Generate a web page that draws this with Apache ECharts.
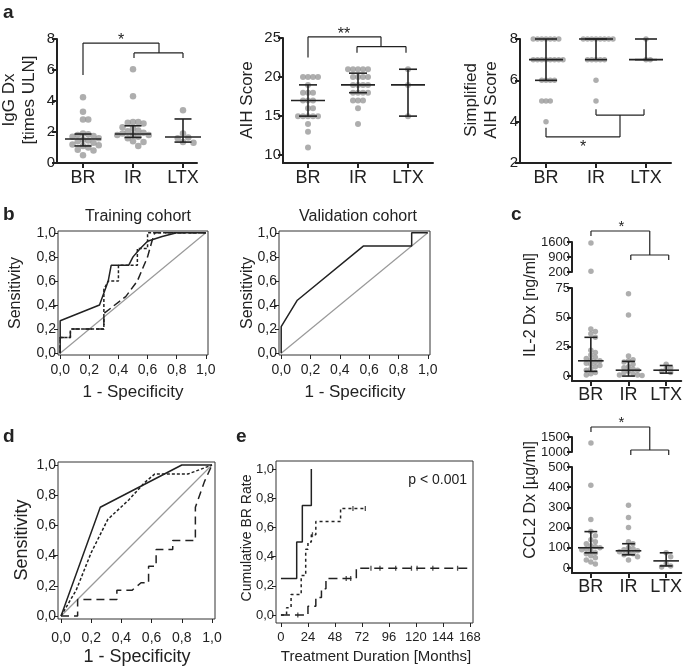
<!DOCTYPE html>
<html><head><meta charset="utf-8">
<script src="https://cdn.jsdelivr.net/npm/echarts@6/dist/echarts.min.js"></script>
<style>html,body{margin:0;padding:0;background:#fff}#c{width:685px;height:667px}</style>
</head><body><div id="c"></div>
<script>
// ---------------- DATA ----------------
const groups = ['BR', 'IR', 'LTX'];

// a: IgG Dx [times ULN]
const iggBR = [4.25,3.3,2.8,2.8,1.9,1.85,1.8,1.75,1.7,1.6,1.5,1.45,1.4,1.3,1.2,1.15,1.1,1.0,0.85,0.8,0.5];
const iggIR = [6.05,4.3,2.65,2.65,2.6,2.55,2.3,2.25,2.1,2.05,1.95,1.9,1.85,1.8,1.8,1.7,1.6,1.4,1.35,1.1];
const iggLTX = [3.4,1.9,1.65,1.6,1.35,1.3];
const iggMed = [1.55,1.87,1.68];
const iggQ1 = [1.1,1.65,1.35];
const iggQ3 = [1.87,2.4,2.84];
const iggTicks = [0,2,4,6,8];

// a: AIH Score
const aihBR = [20,20,20,20,19,18,18,18,17,17,17,16,16,15,15,15,15,15,14,13,11];
const aihIR = [21,21,21,21,21,20,20,20,20,19,19,19,19,18,18,18,18,17,17,17,16,14];
const aihLTX = [21,19,15];
const aihMed = [17,19,19];
const aihQ1 = [15,18,15];
const aihQ3 = [19,20.5,21];
const aihTicks = [10,15,20,25];

// a: Simplified AIH Score
const simBR = [8,8,8,8,8,8,8,7,7,7,7,7,7,7,7,6,6,6,6,5,5,5,4];
const simIR = [8,8,8,8,8,8,8,8,7,7,7,7,7,6,5];
const simLTX = [8,7,7];
const simMed = [7,8,7];
const simQ1 = [6,7,7];
const simQ3 = [8,8,8];
const simTicks = [2,4,6,8];

// c: IL-2 Dx [ng/ml]  (broken axis above 75)
const il2BR = [1550,230,40,38,36,33,22,20,18,16,15,14,13,12,11,10,9,8,6,5,3,2,1];
const il2IR = [70,52,17,14,13,12,10,8,7,6,5,4,3,2,1,1,0.5];
const il2LTX = [10,7,6,4,3];
const il2Med = [13,5,5];
const il2Q1 = [4,0,2.5];
const il2Q3 = [33,12.5,9];
const il2TicksHi = [200,900,1600];
const il2TicksLo = [0,25,50,75];

// c: CCL2 Dx [µg/ml] (broken axis above 500)
const ccl2BR = [1300,410,240,180,160,140,130,120,110,105,100,95,90,85,75,70,60,50,40,30,20];
const ccl2IR = [310,250,200,130,120,100,95,90,85,80,75,70,65,55,40];
const ccl2LTX = [75,55,20,10,5];
const ccl2Med = [100,85,35];
const ccl2Q1 = [75,65,10];
const ccl2Q3 = [180,120,75];
const ccl2TicksHi = [1000,1500];
const ccl2TicksLo = [0,100,200,300,400,500];

// b: ROC training cohort
const trSolidX = [0,0,0.27,0.33,0.35,0.47,0.5,0.55,0.6,0.7,0.8,1];
const trSolidY = [0,0.27,0.4,0.6,0.73,0.73,0.8,0.87,0.93,0.97,1,1];
const trDotX = [0,0,0.07,0.07,0.3,0.3,0.33,0.4,0.4,0.53,0.53,0.6,0.6,1];
const trDotY = [0,0.13,0.13,0.2,0.2,0.53,0.6,0.6,0.73,0.73,0.87,0.87,1,1];
const trDashX = [0,0,0.07,0.07,0.3,0.3,0.45,0.53,0.6,0.63,0.65,1];
const trDashY = [0,0.13,0.13,0.2,0.2,0.33,0.47,0.6,0.8,0.93,1,1];
// b: ROC validation cohort
const vaSolidX = [0,0,0.11,0.56,0.89,0.89,1];
const vaSolidY = [0,0.22,0.44,0.89,0.89,1,1];
// d: ROC
const dSolidX = [0,0.26,0.8,1];
const dSolidY = [0,0.72,1,1];
const dDotX = [0,0.1,0.2,0.31,0.45,0.55,0.62,0.84,1];
const dDotY = [0,0.17,0.42,0.64,0.77,0.88,0.94,0.94,1];
const dDashX = [0,0.11,0.11,0.37,0.37,0.47,0.53,0.58,0.58,0.63,0.63,0.74,0.74,0.89,0.89,0.95,1];
const dDashY = [0,0,0.11,0.11,0.17,0.17,0.22,0.22,0.33,0.33,0.44,0.44,0.5,0.5,0.72,0.89,1];
const diagX = [0,1];
const diagY = [0,1];
const rocTicks = [0,0.2,0.4,0.6,0.8,1];

// e: cumulative BR rate
const kmSolidT = [0,14,19,27];
const kmSolidV = [0.25,0.5,0.75,1.0];
const kmDotT = [0,5,9,18,22,24,27,31,53,75];
const kmDotV = [0,0.05,0.14,0.27,0.45,0.5,0.55,0.64,0.73,0.73];
const kmDashT = [0,24,31,36,40,67,168];
const kmDashV = [0,0.06,0.12,0.18,0.25,0.32,0.32];
const kmDotCens = [28,64,75];
const kmDashCens = [15,58,62,80,88,102,116,121,135,157];
const kmXTicks = [0,24,48,72,96,120,144,168];
const kmYTicks = [0,0.2,0.4,0.6,0.8,1];

// ---------------- HELPERS ----------------
const FONT = 'Liberation Sans';
const INK = '#222';
const DOT = '#9a9a9a';
const grids = [], xAxes = [], yAxes = [], series = [], graphics = [];

function zip(a, b) { return a.map((v, i) => [v, b[i]]); }
function comma(v) { return v.toFixed(1).replace('.', ','); }
function plain(v) { return String(Math.round(v)); }
function addGrid(g, x, y) {
  grids.push(Object.assign({show: false}, g));
  const i = grids.length - 1;
  xAxes.push(Object.assign({gridIndex: i, type: 'value'}, x));
  yAxes.push(Object.assign({gridIndex: i, type: 'value'}, y));
  return i;
}
function catX(min, max, fs, margin) {
  return {min, max,
    axisLine: {show: true, onZero: false, lineStyle: {color: INK, width: 2}},
    axisTick: {show: true, customValues: [0,1,2], length: 5, lineStyle: {color: INK, width: 2}},
    axisLabel: {customValues: [0,1,2], formatter: v => groups[Math.round(v)], fontSize: fs, fontFamily: FONT, color: INK, margin},
    splitLine: {show: false}};
}
function valY(min, max, ticks, fs) {
  return {min, max,
    axisLine: {show: true, onZero: false, lineStyle: {color: INK, width: 2}},
    axisTick: {show: true, customValues: ticks, length: 5, lineStyle: {color: INK, width: 2}},
    axisLabel: {customValues: ticks, formatter: plain, fontSize: fs, fontFamily: FONT, color: INK, margin: 2},
    splitLine: {show: false}};
}
function boxAxis(min, max, ticks, fs, margin, fmt) {
  return {min, max,
    axisLine: {show: false, onZero: false},
    axisTick: {show: true, customValues: ticks, length: 4, lineStyle: {color: INK, width: 1}},
    axisLabel: {customValues: ticks, formatter: fmt, fontSize: fs, fontFamily: FONT, color: INK, margin},
    splitLine: {show: false}};
}
function hidden(min, max) { return {min, max, show: false, axisLine: {onZero: false}, splitLine: {show: false}}; }

// deterministic beeswarm layout (horizontal spread only; values untouched)
function swarm(vals, cx, dx, dy) {
  const s = vals.slice().sort((a, b) => b - a), placed = [], offs = [0];
  for (let k = 1; k < 15; k++) offs.push(k, -k);
  s.forEach(v => {
    for (const k of offs) {
      const x = cx + k * dx;
      if (placed.every(p => ((p[0] - x) / dx) ** 2 + ((p[1] - v) / dy) ** 2 >= 0.99)) { placed.push([x, v]); break; }
    }
  });
  return placed;
}
function dots(g, pts, size) {
  return {type: 'scatter', xAxisIndex: g, yAxisIndex: g, data: pts, symbolSize: size,
    itemStyle: {color: DOT}, silent: true, z: 2};
}
function boxSegs(med, q1, q3, mw, cw) {
  const s = [];
  med.forEach((m, i) => {
    s.push([i - mw, m, i + mw, m], [i, q1[i], i, q3[i]],
      [i - cw, q1[i], i + cw, q1[i]], [i - cw, q3[i], i + cw, q3[i]]);
  });
  return s;
}
function segSeries(g, segs, lw) {
  return {type: 'custom', xAxisIndex: g, yAxisIndex: g, clip: false, silent: true, z: 5,
    data: segs,
    renderItem: (params, api) => {
      const p1 = api.coord([api.value(0), api.value(1)]);
      const p2 = api.coord([api.value(2), api.value(3)]);
      return {type: 'line', shape: {x1: p1[0], y1: p1[1], x2: p2[0], y2: p2[1]},
        style: {stroke: INK, lineWidth: lw || 1.5}};
    }};
}
function starSeries(g, pos, text, size) {
  return {type: 'custom', xAxisIndex: g, yAxisIndex: g, clip: false, silent: true, z: 5,
    data: [pos],
    renderItem: (params, api) => {
      const p = api.coord([api.value(0), api.value(1)]);
      return {type: 'text', x: p[0], y: p[1],
        style: {text, fontSize: size, fontFamily: FONT, fill: INK, align: 'center', verticalAlign: 'middle',
          textAlign: 'center', textVerticalAlign: 'middle'}};
    }};
}
function lineS(g, X, Y, type, color, width, step) {
  return {type: 'line', xAxisIndex: g, yAxisIndex: g, data: zip(X, Y), symbol: 'none', step: step || false,
    silent: true, z: 3, lineStyle: {color: color || INK, width: width || 1.5, type: type || 'solid'}};
}
function stepAt(T, V, t) { let v = V[0]; for (let i = 0; i < T.length; i++) if (T[i] <= t) v = V[i]; return v; }
function txt(x, y, text, size, o) {
  o = o || {};
  return {type: 'text', x, y, rotation: o.rot ? Math.PI / 2 : 0, silent: true,
    style: {text, fontSize: size, fontFamily: FONT, fontWeight: o.bold ? 'bold' : 'normal', fill: INK,
      align: o.align || 'center', verticalAlign: 'middle', textAlign: o.align || 'center', textVerticalAlign: 'middle',
      lineHeight: o.lh || Math.round(size * 1.2)}};
}

// ---------------- PANEL a ----------------
const gIgG = addGrid({left: 57, top: 39, width: 140, height: 124}, catX(-0.52, 2.28, 18, 6), valY(0, 8, iggTicks, 15));
[iggBR, iggIR, iggLTX].forEach((vals, i) => series.push(dots(gIgG, swarm(vals, i, 0.105, 0.36), 6.5)));
series.push(segSeries(gIgG, boxSegs(iggMed, iggQ1, iggQ3, 0.36, 0.17), 1.6));
series.push(segSeries(gIgG, [[0,5.68,0,7.74],[0,7.74,1.52,7.74],[1.52,7.74,1.52,7.1],[1.02,7.1,2,7.1],[1.02,7.1,1.02,6.77],[2,7.1,2,6.77]], 1.2));
series.push(starSeries(gIgG, [0.76, 7.9], '*', 16));

const gAIH = addGrid({left: 283, top: 38, width: 150, height: 125}, catX(-0.5, 2.5, 18, 6), valY(9, 25, aihTicks, 15));
[aihBR, aihIR, aihLTX].forEach((vals, i) => series.push(dots(gAIH, swarm(vals, i, 0.1, 0.77), 6)));
series.push(segSeries(gAIH, boxSegs(aihMed, aihQ1, aihQ3, 0.34, 0.18), 1.6));
series.push(segSeries(gAIH, [[0,22.5,0,25.15],[0,25.15,1.46,25.15],[1.46,25.15,1.46,23.9],[0.98,23.9,1.96,23.9],[0.98,23.9,0.98,23.1],[1.96,23.9,1.96,23.1]], 1.2));
series.push(starSeries(gAIH, [0.72, 25.45], '**', 16));

const gSim = addGrid({left: 520, top: 39, width: 151, height: 124}, catX(-0.52, 2.5, 18, 6), valY(2, 8, simTicks, 15));
[simBR, simIR, simLTX].forEach((vals, i) => series.push(dots(gSim, swarm(vals, i, 0.085, 0.29), 5.5)));
series.push(segSeries(gSim, boxSegs(simMed, simQ1, simQ3, 0.34, 0.22), 1.6));
series.push(segSeries(gSim, [[0,3.7,0,3.26],[0,3.26,1.48,3.26],[1.48,3.26,1.48,4.32],[1.0,4.32,1.96,4.32],[1.0,4.32,1.0,4.6],[1.96,4.32,1.96,4.6]], 1.2));
series.push(starSeries(gSim, [0.74, 2.75], '*', 16));

// ---------------- PANEL b ----------------
const gTr = addGrid({left: 58, top: 231, width: 150, height: 124, show: true, borderColor: '#333', borderWidth: 1},
  boxAxis(-0.015, 1.015, rocTicks, 14, 8, comma), boxAxis(-0.015, 1.015, rocTicks, 14, 2, comma));
series.push(lineS(gTr, diagX, diagY, 'solid', '#999', 1.2));
series.push(lineS(gTr, trDashX, trDashY, [8, 4]));
series.push(lineS(gTr, trDotX, trDotY, [3, 2]));
series.push(lineS(gTr, trSolidX, trSolidY, 'solid'));

const gVa = addGrid({left: 279, top: 231, width: 151, height: 124, show: true, borderColor: '#333', borderWidth: 1},
  boxAxis(-0.015, 1.015, rocTicks, 14, 8, comma), boxAxis(-0.015, 1.015, rocTicks, 14, 2, comma));
series.push(lineS(gVa, diagX, diagY, 'solid', '#999', 1.2));
series.push(lineS(gVa, vaSolidX, vaSolidY, 'solid'));

// ---------------- PANEL c ----------------
function brokenPanel(top1, h1, hiMin, hiMax, hiTicks, top2, h2, loMin, loMax, loTicks, vals, thr, med, q1, q3, dyLo, dyHi, bracket, star) {
  const gH = addGrid({left: 572, top: top1, width: 110, height: h1}, hidden(-0.5, 2.4), valY(hiMin, hiMax, hiTicks, 13));
  const gL = addGrid({left: 572, top: top2, width: 110, height: h2}, catX(-0.5, 2.4, 18, 5), valY(loMin, loMax, loTicks, 13));
  vals.forEach((v, i) => {
    series.push(dots(gL, swarm(v.filter(a => a <= thr), i, 0.12, dyLo), 5.5));
    series.push(dots(gH, swarm(v.filter(a => a > thr), i, 0.12, dyHi), 5.5));
  });
  series.push(segSeries(gL, boxSegs(med, q1, q3, 0.34, 0.17), 1.6));
  series.push(segSeries(gH, bracket, 1.2));
  series.push(starSeries(gH, star, '*', 15));
}
brokenPanel(242, 30, 200, 1600, il2TicksHi, 288, 93, -4.2, 75, il2TicksLo,
  [il2BR, il2IR, il2LTX], 75, il2Med, il2Q1, il2Q3, 4.0, 257,
  [[0,1880,0,2113],[0,2113,1.55,2113],[1.55,2113,1.55,993],[1.05,993,2.05,993],[1.05,993,1.05,760],[2.05,993,2.05,760]], [0.8, 2300]);
brokenPanel(437, 15, 1000, 1500, ccl2TicksHi, 467, 106, -25, 500, ccl2TicksLo,
  [ccl2BR, ccl2IR, ccl2LTX], 500, ccl2Med, ccl2Q1, ccl2Q3, 23, 183,
  [[0,1667,0,1833],[0,1833,1.55,1833],[1.55,1833,1.55,1067],[1.05,1067,2.05,1067],[1.05,1067,1.05,900],[2.05,1067,2.05,900]], [0.8, 1960]);

// ---------------- PANEL d ----------------
const gD = addGrid({left: 58, top: 462, width: 157, height: 157, show: true, borderColor: '#333', borderWidth: 1},
  boxAxis(-0.02, 1.02, rocTicks, 14, 12, comma), boxAxis(-0.02, 1.02, rocTicks, 14, 2, comma));
series.push(lineS(gD, diagX, diagY, 'solid', '#999', 1.2));
series.push(lineS(gD, dDashX, dDashY, [8, 5]));
series.push(lineS(gD, dDotX, dDotY, [3, 2]));
series.push(lineS(gD, dSolidX, dSolidY, 'solid'));

// ---------------- PANEL e ----------------
const gE = addGrid({left: 276, top: 461, width: 197, height: 162, show: true, borderColor: '#333', borderWidth: 1},
  boxAxis(-4.4, 170.7, kmXTicks, 13, 8, v => String(Math.round(v))), boxAxis(-0.055, 1.055, kmYTicks, 13, 2, comma));
series.push(lineS(gE, kmDashT, kmDashV, [9, 5], INK, 1.5, 'end'));
series.push(lineS(gE, kmDotT, kmDotV, [3, 3], INK, 1.5, 'end'));
series.push(lineS(gE, kmSolidT, kmSolidV, 'solid', INK, 1.5, 'end'));
function censors(T, V, C) {
  return {type: 'scatter', xAxisIndex: gE, yAxisIndex: gE, symbol: 'rect', symbolSize: [1.3, 5],
    data: C.map(t => [t, stepAt(T, V, t)]), itemStyle: {color: INK}, silent: true, z: 4};
}
series.push(censors(kmDashT, kmDashV, kmDashCens));
series.push(censors(kmDotT, kmDotV, kmDotCens));

// ---------------- TEXT ----------------
graphics.push(
  txt(3, 13, 'a', 19, {bold: true, align: 'left'}),
  txt(19, 100, 'IgG Dx\n[times ULN]', 17, {rot: true, lh: 20}),
  txt(247, 100, 'AIH Score', 17, {rot: true}),
  txt(481, 100, 'Simplified\nAIH Score', 17, {rot: true, lh: 20}),
  txt(3, 215, 'b', 19, {bold: true, align: 'left'}),
  txt(138, 217, 'Training cohort', 16),
  txt(358, 217, 'Validation cohort', 16),
  txt(16, 293, 'Sensitivity', 16, {rot: true}),
  txt(248, 293, 'Sensitivity', 16, {rot: true}),
  txt(133, 392, '1 - Specificity', 17),
  txt(355, 392, '1 - Specificity', 17),
  txt(511, 215, 'c', 19, {bold: true, align: 'left'}),
  txt(531, 305, 'IL-2 Dx [ng/ml]', 16, {rot: true}),
  txt(531, 500, 'CCL2 Dx [µg/ml]', 16, {rot: true}),
  txt(3, 437, 'd', 19, {bold: true, align: 'left'}),
  txt(22, 540, 'Sensitivity', 18, {rot: true}),
  txt(137, 657, '1 - Specificity', 18),
  txt(236, 437, 'e', 19, {bold: true, align: 'left'}),
  txt(247, 538, 'Cumulative BR Rate', 14, {rot: true}),
  txt(376, 657, 'Treatment Duration [Months]', 15),
  txt(467, 480, 'p < 0.001', 14, {align: 'right'})
);

const chart = echarts.init(document.getElementById('c'), null, {renderer: 'canvas'});
chart.setOption({
  animation: false,
  backgroundColor: '#fff',
  grid: grids, xAxis: xAxes, yAxis: yAxes, series,
  graphic: {elements: graphics}
});
</script>
</body></html>
